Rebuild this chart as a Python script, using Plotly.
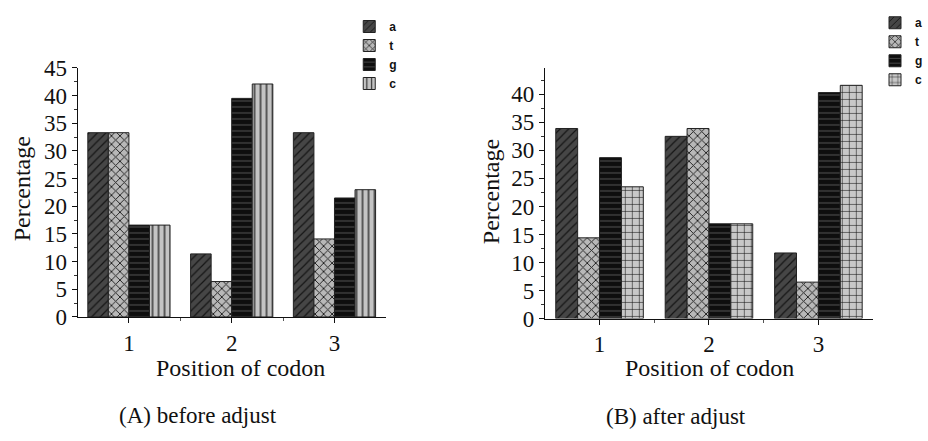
import plotly.graph_objects as go

W, H = 928, 441

positions = [1, 2, 3]
series_names = ["a", "t", "g", "c"]

# (A) before adjust
before_a = [33.3, 11.4, 33.3]
before_t = [33.3, 6.4, 14.1]
before_g = [16.6, 39.5, 21.5]
before_c = [16.6, 42.1, 23.0]

# (B) after adjust
after_a = [33.9, 32.5, 11.7]
after_t = [14.4, 33.9, 6.5]
after_g = [28.7, 16.9, 40.3]
after_c = [23.5, 16.9, 41.6]

y_ticks_a = [0, 5, 10, 15, 20, 25, 30, 35, 40, 45]
y_ticks_b = [0, 5, 10, 15, 20, 25, 30, 35, 40]

SERIF = "Liberation Serif"
SANS = "Liberation Sans"

styles = {
    "a": dict(shape="/", bgcolor="#464646", fgcolor="#151515", size=6, solidity=0.2),
    "t": dict(shape="x", bgcolor="#b8b8b8", fgcolor="#1a1a1a", size=6, solidity=0.28),
    "g": dict(shape="-", bgcolor="#0e0e0e", fgcolor="#5a5a5a", size=6, solidity=0.15),
    "cA": dict(shape="|", bgcolor="#c4c4c4", fgcolor="#333333", size=6, solidity=0.25),
    "cB": dict(shape="+", bgcolor="#c8c8c8", fgcolor="#111111", size=7, solidity=0.15),
}

fig = go.Figure()

def add_bar(name, vals, style, xa, ya, legend):
    fig.add_trace(go.Bar(
        x=positions, y=vals, name=name,
        xaxis=xa, yaxis=ya, legend=legend,
        marker=dict(color=style["bgcolor"],
                    line=dict(color="#222222", width=1),
                    pattern=dict(fillmode="replace", **style)),
        width=0.2,
    ))

for nm, vals, st in zip(series_names,
                        [before_a, before_t, before_g, before_c],
                        [styles["a"], styles["t"], styles["g"], styles["cA"]]):
    add_bar(nm, vals, st, "x", "y", "legend")

for nm, vals, st in zip(series_names,
                        [after_a, after_t, after_g, after_c],
                        [styles["a"], styles["t"], styles["g"], styles["cB"]]):
    add_bar(nm, vals, st, "x2", "y2", "legend2")

def px_x(p):
    return p / W

def px_y(p):
    return 1 - p / H

xaxis_common = dict(
    range=[0.5, 3.5], tickmode="array", tickvals=positions,
    ticks="outside", ticklen=5, tickcolor="#111", tickwidth=1,
    showline=True, linecolor="#111", linewidth=1,
    showgrid=False, zeroline=False,
    tickfont=dict(family=SERIF, size=23, color="#111"),
    minor=dict(tickmode="array", tickvals=[1.5, 2.5], ticks="outside",
               ticklen=3, tickcolor="#555"),
    fixedrange=True,
)
yaxis_common = dict(
    ticks="outside", ticklen=5, tickcolor="#111", tickwidth=1,
    showline=True, linecolor="#111", linewidth=1,
    showgrid=False, zeroline=False,
    tickfont=dict(family=SERIF, size=23, color="#111"),
    minor=dict(dtick=2.5, tick0=0, ticks="outside", ticklen=3, tickcolor="#333"),
    fixedrange=True,
)

fig.update_layout(
    width=W, height=H,
    margin=dict(l=0, r=0, t=0, b=0),
    paper_bgcolor="white", plot_bgcolor="white",
    barmode="group", bargap=0.2, bargroupgap=0,
    xaxis=dict(domain=[px_x(77.7), px_x(386.7)], anchor="y", **xaxis_common),
    yaxis=dict(domain=[px_y(323.3), px_y(59.3)], anchor="x", range=[0, 45],
               tickvals=y_ticks_a, **yaxis_common),
    xaxis2=dict(domain=[px_x(546), px_x(875)], anchor="y2", **xaxis_common),
    yaxis2=dict(domain=[px_y(325), px_y(59.3)], anchor="x2", range=[0, 44.7],
                tickvals=y_ticks_b, **yaxis_common),
    legend=dict(x=px_x(350), y=1, xanchor="left", yanchor="top",
                font=dict(family=SANS, size=12, color="#111", weight="bold"),
                bgcolor="rgba(0,0,0,0)", tracegroupgap=0, itemwidth=30),
    legend2=dict(x=px_x(877), y=1.009, xanchor="left", yanchor="top",
                 font=dict(family=SANS, size=12, color="#111", weight="bold"),
                 bgcolor="rgba(0,0,0,0)", tracegroupgap=0, itemwidth=30),
    showlegend=True,
)

def ann(text, x, y, size=24, angle=0):
    fig.add_annotation(text=text, x=px_x(x), y=px_y(y), xref="paper", yref="paper",
                       xanchor="center", yanchor="middle", showarrow=False,
                       textangle=angle, font=dict(family=SERIF, size=size, color="#111"))

ann("Percentage", 22, 187, angle=-90)
ann("Percentage", 492, 190, angle=-90)
ann("Position of codon", 241, 377)
ann("Position of codon", 711, 377)
ann("(A) before adjust", 198, 428, size=23)
ann("(B) after adjust", 677, 429, size=23)

fig.write_html("out.html",
               config={"displayModeBar": False, "staticPlot": True},
               post_script="document.body.style.margin='0';document.body.style.overflow='hidden';")
